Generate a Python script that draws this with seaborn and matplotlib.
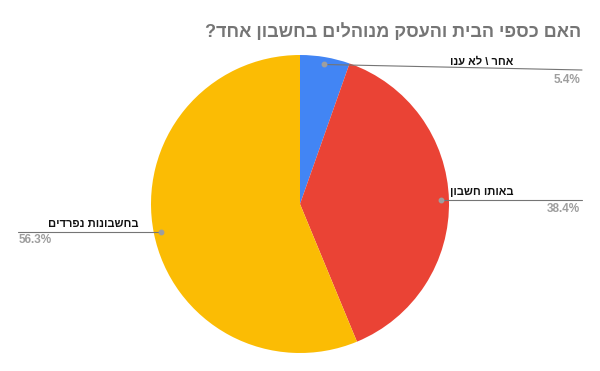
import matplotlib.pyplot as plt
import numpy as np
import seaborn as sns

title = "האם כספי הבית והעסק מנוהלים בחשבון אחד?"
labels = ["אחר \\ לא ענו", "באותו חשבון", "בחשבונות נפרדים"]
shares = [5.4, 38.4, 56.3]
pct_labels = ["5.4%", "38.4%", "56.3%"]
colors = ["#4285F4", "#EA4335", "#FBBC04"]

sns.set_theme(style="white")
plt.rcParams['font.family'] = ['Liberation Sans', 'DejaVu Sans']


# matplotlib has no bidi support, so flip Hebrew strings for display
def rtl(s):
    return s[::-1]


W, H = 600, 371
CX, CY, R = 300, 204, 149   # pie centre / radius in pixels (from top-left)


def fx(px):
    return px / W


def fy(py):
    return 1 - py / H


def to_data(px, py):
    return (px - CX) / R, (CY - py) / R


fig = plt.figure(figsize=(6, 3.71), dpi=100)
ax = fig.add_axes([fx(CX - R), fy(CY + R), 2 * R / W, 2 * R / H])
wedges, _ = ax.pie(shares, colors=colors, startangle=90, counterclock=False,
                   radius=1, wedgeprops={"linewidth": 0})
ax.set_xlim(-1, 1)
ax.set_ylim(-1, 1)
ax.axis("off")

# label layout: (text x, text y, text ha, pct x, pct y, pct ha, line end x, line end y) in pixels
layout = [
    (513, 62, "right", 580, 80, "right", 582, 70),
    (513, 192, "right", 580, 209, "right", 582, None),
    (138, 224, "right", 19, 240, "left", 18, None),
]

line_col = "#757575"
for w, lab, pct, lay in zip(wedges, labels, pct_labels, layout):
    tx, ty, tha, px, py, pha, ex, ey = lay
    mid = np.deg2rad((w.theta1 + w.theta2) / 2)
    dx, dy = 0.95 * np.cos(mid), 0.95 * np.sin(mid)
    end_x = to_data(ex, 0)[0]
    end_y = dy if ey is None else to_data(0, ey)[1]
    ax.plot([dx, end_x], [dy, end_y], color=line_col, lw=0.8, clip_on=False)
    ax.plot([dx], [dy], marker="o", ms=3.2, color="#9e9e9e", clip_on=False)
    fig.text(fx(tx), fy(ty), rtl(lab), ha=tha, va="center", fontsize=8,
             fontweight="bold", color="#111111")
    fig.text(fx(px), fy(py), pct, ha=pha, va="center", fontsize=8.5,
             fontweight="bold", color="#9e9e9e")

fig.text(fx(581), fy(32), rtl(title), ha="right", va="center", fontsize=13,
         fontweight="bold", color="#757575")

fig.savefig("out.png", dpi=100, facecolor="white")
